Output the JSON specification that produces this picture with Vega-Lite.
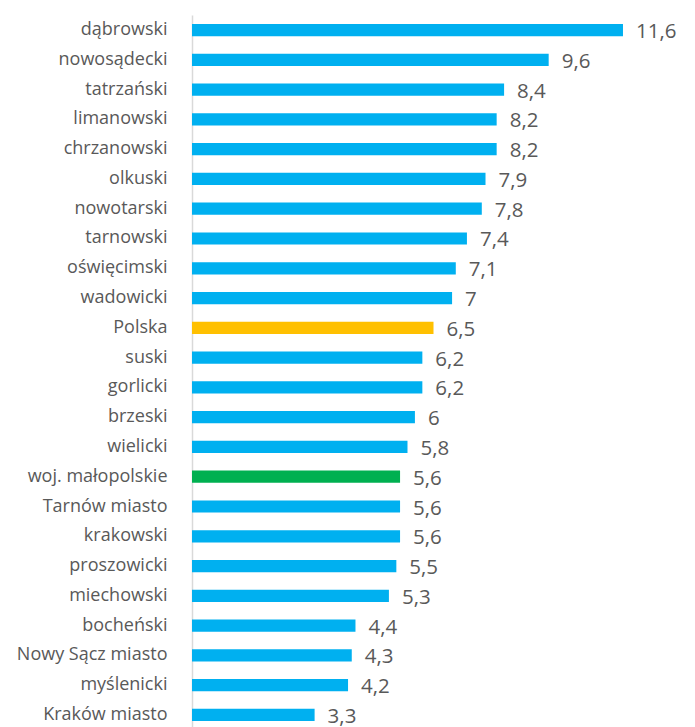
{
  "$schema": "https://vega.github.io/schema/vega-lite/v6.json",
  "autosize": "none",
  "width": 483,
  "height": 715,
  "padding": {"left": 192, "top": 15, "right": 20, "bottom": 0},
  "background": "white",
  "config": {
    "view": {"stroke": null},
    "locale": {"number": {"decimal": ",", "thousands": " ", "grouping": [3], "currency": ["", " zł"]}}
  },
  "data": {
    "values": [
      {"powiat": "dąbrowski", "wartosc": 11.6, "grupa": "powiat"},
      {"powiat": "nowosądecki", "wartosc": 9.6, "grupa": "powiat"},
      {"powiat": "tatrzański", "wartosc": 8.4, "grupa": "powiat"},
      {"powiat": "limanowski", "wartosc": 8.2, "grupa": "powiat"},
      {"powiat": "chrzanowski", "wartosc": 8.2, "grupa": "powiat"},
      {"powiat": "olkuski", "wartosc": 7.9, "grupa": "powiat"},
      {"powiat": "nowotarski", "wartosc": 7.8, "grupa": "powiat"},
      {"powiat": "tarnowski", "wartosc": 7.4, "grupa": "powiat"},
      {"powiat": "oświęcimski", "wartosc": 7.1, "grupa": "powiat"},
      {"powiat": "wadowicki", "wartosc": 7, "grupa": "powiat"},
      {"powiat": "Polska", "wartosc": 6.5, "grupa": "Polska"},
      {"powiat": "suski", "wartosc": 6.2, "grupa": "powiat"},
      {"powiat": "gorlicki", "wartosc": 6.2, "grupa": "powiat"},
      {"powiat": "brzeski", "wartosc": 6, "grupa": "powiat"},
      {"powiat": "wielicki", "wartosc": 5.8, "grupa": "powiat"},
      {"powiat": "woj. małopolskie", "wartosc": 5.6, "grupa": "woj"},
      {"powiat": "Tarnów miasto", "wartosc": 5.6, "grupa": "powiat"},
      {"powiat": "krakowski", "wartosc": 5.6, "grupa": "powiat"},
      {"powiat": "proszowicki", "wartosc": 5.5, "grupa": "powiat"},
      {"powiat": "miechowski", "wartosc": 5.3, "grupa": "powiat"},
      {"powiat": "bocheński", "wartosc": 4.4, "grupa": "powiat"},
      {"powiat": "Nowy Sącz miasto", "wartosc": 4.3, "grupa": "powiat"},
      {"powiat": "myślenicki", "wartosc": 4.2, "grupa": "powiat"},
      {"powiat": "Kraków miasto", "wartosc": 3.3, "grupa": "powiat"}
    ]
  },
  "encoding": {
    "y": {
      "field": "powiat",
      "type": "nominal",
      "sort": null,
      "scale": {"paddingInner": 0.59, "paddingOuter": 0.3},
      "axis": {
        "title": null,
        "ticks": false,
        "domain": true,
        "domainColor": "#d9d9d9",
        "domainWidth": 1.5,
        "labelPadding": 25,
        "labelColor": "#595959",
        "labelFont": "Open Sans",
        "labelFontSize": 18
      }
    },
    "x": {
      "field": "wartosc",
      "type": "quantitative",
      "scale": {"domain": [0, 13]},
      "axis": null
    }
  },
  "layer": [
    {
      "mark": {"type": "bar"},
      "encoding": {
        "color": {
          "field": "grupa",
          "type": "nominal",
          "scale": {"domain": ["powiat", "Polska", "woj"], "range": ["#00b0f0", "#ffc000", "#00b050"]},
          "legend": null
        }
      }
    },
    {
      "mark": {"type": "text", "align": "left", "baseline": "middle", "dx": 13, "dy": 2, "font": "Open Sans", "fontSize": 20.5, "color": "#595959"},
      "encoding": {
        "text": {"field": "wartosc", "type": "quantitative", "format": ".1~f"}
      }
    }
  ]
}
